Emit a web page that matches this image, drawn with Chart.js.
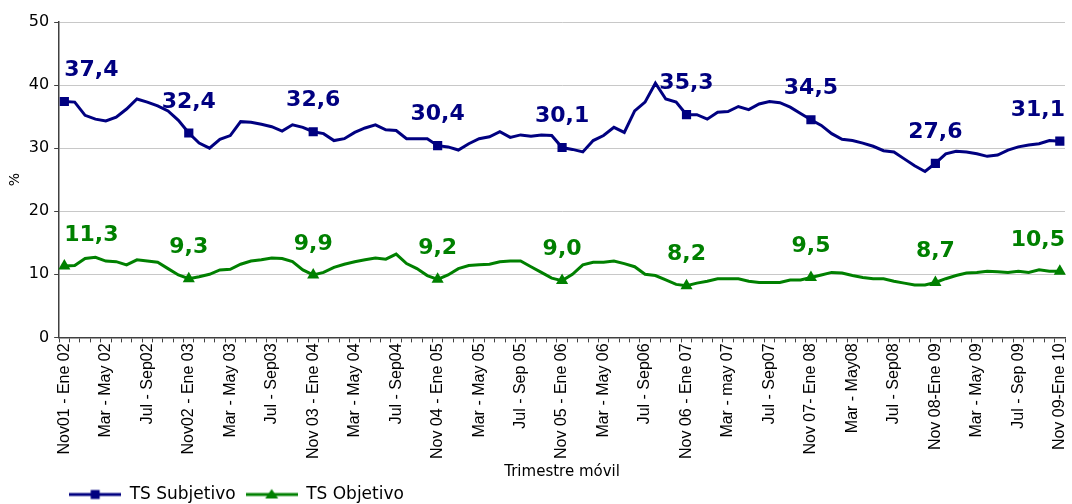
<!DOCTYPE html>
<html>
<head>
<meta charset="utf-8">
<script src="https://cdn.jsdelivr.net/npm/chart.js@4.4.1/dist/chart.umd.min.js"></script>
<style>
html, body { margin: 0; padding: 0; background: #fff; overflow: hidden; }
#wrap { width: 1072px; height: 504px; }
</style>
</head>
<body>
<div id="wrap"><canvas id="chart" width="1072" height="504"></canvas></div>
<script>
// rolling quarters, Nov01-Ene02 .. Nov09-Ene10 (97 points)
const months = ["Ene", "Feb", "Mar", "Abr", "May", "Jun", "Jul", "Ago", "Sep", "Oct", "Nov", "Dic"];

const tickLabels = [
    "Nov01 - Ene 02", "Mar - May 02", "Jul - Sep02",
    "Nov02 - Ene 03", "Mar - May 03", "Jul - Sep03",
    "Nov 03 - Ene 04", "Mar - May 04", "Jul - Sep04",
    "Nov 04 - Ene 05", "Mar - May 05", "Jul - Sep 05",
    "Nov 05 - Ene 06", "Mar - May 06", "Jul - Sep06",
    "Nov 06 - Ene 07", "Mar - may 07", "Jul - Sep07",
    "Nov 07- Ene 08", "Mar - May08", "Jul - Sep08",
    "Nov 08-Ene 09", "Mar - May 09", "Jul - Sep 09",
    "Nov 09-Ene 10"
];

const tsSubjetivo = [
    37.4, 37.3, 35.2, 34.6, 34.3, 34.9, 36.2, 37.8, 37.3, 36.7, 35.9, 34.4,
    32.4, 30.8, 30.0, 31.4, 32.0, 34.2, 34.1, 33.8, 33.4, 32.7, 33.7, 33.3,
    32.6, 32.3, 31.2, 31.5, 32.5, 33.2, 33.7, 32.9, 32.8, 31.5, 31.5, 31.5,
    30.4, 30.2, 29.7, 30.7, 31.5, 31.8, 32.6, 31.7, 32.1, 31.9, 32.1, 32.0,
    30.1, 29.8, 29.4, 31.2, 32.0, 33.3, 32.5, 35.9, 37.3, 40.3, 37.8, 37.3,
    35.3, 35.3, 34.6, 35.7, 35.8, 36.6, 36.1, 37.0, 37.4, 37.2, 36.5, 35.5,
    34.5, 33.6, 32.3, 31.4, 31.2, 30.8, 30.3, 29.6, 29.4, 28.3, 27.2, 26.3,
    27.6, 29.1, 29.5, 29.4, 29.1, 28.7, 28.9, 29.7, 30.2, 30.5, 30.7, 31.2,
    31.1
];

const tsObjetivo = [
    11.3, 11.4, 12.5, 12.7, 12.1, 12.0, 11.5, 12.3, 12.1, 11.9, 10.9, 9.9,
    9.3, 9.6, 10.0, 10.7, 10.8, 11.6, 12.1, 12.3, 12.6, 12.5, 12.0, 10.7,
    9.9, 10.3, 11.1, 11.6, 12.0, 12.3, 12.6, 12.4, 13.2, 11.7, 10.9, 9.8,
    9.2, 9.9, 10.9, 11.4, 11.5, 11.6, 12.0, 12.1, 12.1, 11.2, 10.3, 9.4,
    9.0, 10.0, 11.5, 11.9, 11.9, 12.1, 11.7, 11.2, 10.0, 9.8, 9.1, 8.4,
    8.2, 8.6, 8.9, 9.3, 9.3, 9.3, 8.9, 8.7, 8.7, 8.7, 9.1, 9.1,
    9.5, 9.9, 10.3, 10.2, 9.8, 9.5, 9.3, 9.3, 8.9, 8.6, 8.3, 8.3,
    8.7, 9.3, 9.8, 10.2, 10.3, 10.5, 10.4, 10.3, 10.5, 10.3, 10.7, 10.5,
    10.5
];

const BLUE = "#000080";
const GREEN = "#008000";

// category names for every month of the series
const categories = tsSubjetivo.map((v, i) => {
    const m = 10 + i;
    const yy = n => String(n % 100).padStart(2, "0");
    return months[m % 12] + yy(1 + Math.floor(m / 12)) + "-" + months[(m + 2) % 12] + yy(1 + Math.floor((m + 2) / 12));
});

// markers only on the Nov-Ene quarter of each year
const markerSize = r => ctx => ctx.dataIndex % 12 === 0 ? r : 0;

// line + marker icon for the legend
function legendIcon(color, style) {
    const c = document.createElement("canvas");
    c.width = 52;
    c.height = 14;
    const g = c.getContext("2d");
    g.strokeStyle = color;
    g.lineWidth = 3;
    g.beginPath();
    g.moveTo(0, 7);
    g.lineTo(52, 7);
    g.stroke();
    g.fillStyle = color;
    if (style === "rect") {
        g.fillRect(21.5, 2.5, 9, 9);
    } else {
        g.beginPath();
        g.moveTo(26, 1.5);
        g.lineTo(32.5, 11);
        g.lineTo(19.5, 11);
        g.closePath();
        g.fill();
    }
    return c;
}
const icons = [legendIcon(BLUE, "rect"), legendIcon(GREEN, "triangle")];

// value labels above the yearly markers
const pointLabels = {
    id: "pointLabels",
    afterDatasetsDraw(chart) {
        const ctx = chart.ctx;
        const area = chart.chartArea;
        ctx.save();
        ctx.font = 'bold 22px "DejaVu Sans"';
        ctx.textAlign = "center";
        ctx.textBaseline = "middle";
        chart.data.datasets.forEach((ds, d) => {
            chart.getDatasetMeta(d).data.forEach((pt, i) => {
                if (i % 12 !== 0) return;
                const text = ds.data[i].toFixed(1).replace(".", ",");
                const w = ctx.measureText(text).width;
                let x = Math.max(pt.x, area.left + 5 + w / 2);
                x = Math.min(x, area.right - w / 2);
                ctx.fillStyle = ds.borderColor;
                ctx.fillText(text, x, pt.y - 31);
            });
        });
        ctx.restore();
    }
};

const ctx = document.getElementById("chart").getContext("2d");

new Chart(ctx, {
    type: "line",
    data: {
        labels: categories,
        datasets: [
            {
                label: "TS Subjetivo",
                data: tsSubjetivo,
                borderColor: BLUE,
                backgroundColor: BLUE,
                borderWidth: 3,
                pointStyle: "rect",
                pointBorderWidth: 0,
                pointRadius: markerSize(6.5),
                pointHoverRadius: markerSize(6.5),
                tension: 0
            },
            {
                label: "TS Objetivo",
                data: tsObjetivo,
                borderColor: GREEN,
                backgroundColor: GREEN,
                borderWidth: 3,
                pointStyle: "triangle",
                pointBorderWidth: 0,
                pointRadius: markerSize(7),
                pointHoverRadius: markerSize(7),
                tension: 0
            }
        ]
    },
    options: {
        responsive: false,
        animation: false,
        layout: { padding: { top: 22, left: 0, right: 0, bottom: -9 } },
        plugins: {
            tooltip: { enabled: false },
            legend: {
                position: "bottom",
                align: "start",
                fullSize: false,
                labels: {
                    usePointStyle: true,
                    pointStyleWidth: 52,
                    padding: 10,
                    color: "#000",
                    font: { family: '"DejaVu Sans"', size: 17 },
                    generateLabels(chart) {
                        const items = Chart.defaults.plugins.legend.labels.generateLabels(chart);
                        items.forEach((it, i) => { it.pointStyle = icons[i]; });
                        return items;
                    }
                }
            }
        },
        scales: {
            x: {
                offset: true,
                afterFit(scale) {
                    scale.paddingRight = 0;
                    scale.paddingLeft = 0;
                },
                grid: { drawOnChartArea: false, offset: true, tickLength: 5, tickColor: "#404040" },
                border: { color: "#404040", width: 1.5 },
                ticks: {
                    autoSkip: false,
                    minRotation: 90,
                    maxRotation: 90,
                    padding: 1,
                    color: "#000",
                    font: { family: '"Liberation Sans", Arial', size: 16 },
                    callback: (v, i) => i % 4 === 0 ? tickLabels[i / 4] : ""
                },
                title: {
                    display: true,
                    text: "Trimestre móvil",
                    color: "#000",
                    font: { family: '"DejaVu Sans"', size: 15 },
                    padding: { top: 3, bottom: -5 }
                }
            },
            y: {
                min: 0,
                max: 50,
                grid: { color: "#c8c8c8", tickLength: 5, tickColor: "#404040" },
                border: { color: "#404040", width: 1.5 },
                ticks: {
                    stepSize: 10,
                    padding: 5,
                    color: "#000",
                    font: { family: '"DejaVu Sans"', size: 16 }
                },
                title: {
                    display: true,
                    text: "%",
                    color: "#000",
                    font: { family: '"DejaVu Sans"', size: 14 },
                    padding: { top: 7, bottom: 0 }
                }
            }
        }
    },
    plugins: [pointLabels]
});
</script>
</body>
</html>
